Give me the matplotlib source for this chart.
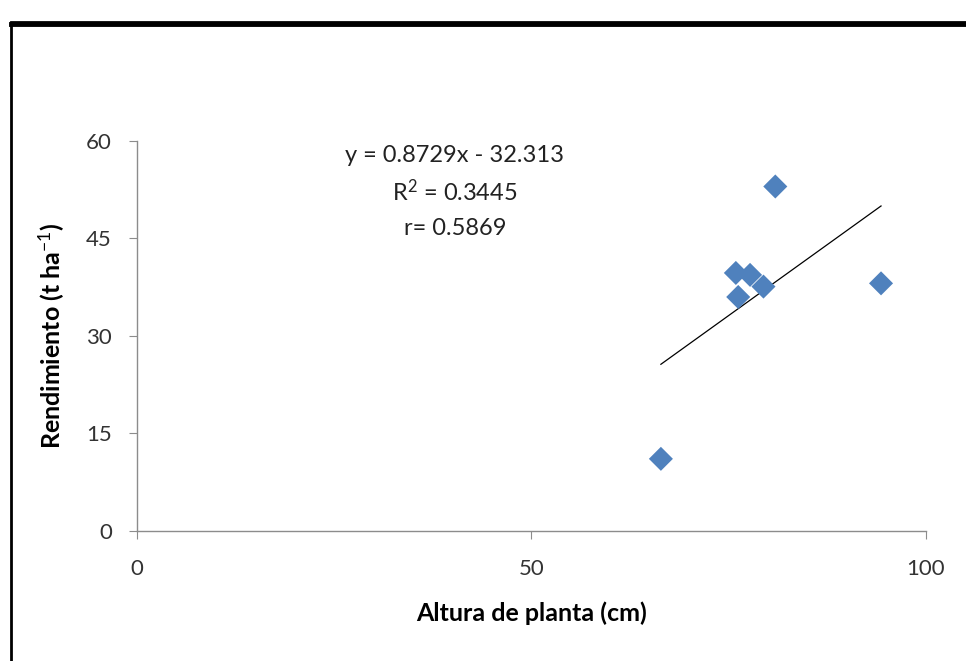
import numpy as np
import matplotlib.pyplot as plt
from matplotlib.patches import Rectangle

plt.rcParams['font.family'] = ['Lato', 'DejaVu Sans']
plt.rcParams['mathtext.fontset'] = 'custom'
plt.rcParams['mathtext.rm'] = 'Lato'
plt.rcParams['mathtext.it'] = 'Lato:italic'
plt.rcParams['mathtext.bf'] = 'Lato:bold'

# altura de planta (cm) vs rendimiento (t/ha)
altura = [66.4, 75.9, 76.2, 77.7, 79.4, 80.9, 94.3]
rendimiento = [11.1, 39.7, 36.0, 39.4, 37.6, 53.0, 38.1]

slope = 0.8729
intercept = -32.313
eq_lines = ["y = 0.8729x - 32.313", "R$^{2}$ = 0.3445", "r= 0.5869"]

x_ticks = [0, 50, 100]
y_ticks = [0, 15, 30, 45, 60]

fig = plt.figure(figsize=(9.66, 6.61), dpi=100)
fig.patches.append(Rectangle((11 / 966, -0.1), 1.1, 1 - 22 / 661 + 0.1,
                             transform=fig.transFigure, fill=False,
                             edgecolor='black', linewidth=2))
fig.add_artist(plt.Line2D([11 / 966, 1], [1 - 24 / 661, 1 - 24 / 661],
                          transform=fig.transFigure, color='black', linewidth=3.5))

ax = fig.add_axes([0.1418, 0.1967, 0.9586 - 0.1418, 0.7867 - 0.1967])

ax.scatter(altura, rendimiento, marker='D', s=150, color='#4F81BD',
           edgecolor='none', zorder=3)

xs = np.array([min(altura), max(altura)])
ax.plot(xs, slope * xs + intercept, color='black', linewidth=0.9, zorder=2)

ax.set_xlim(0, 100)
ax.set_ylim(0, 60)
ax.set_xticks(x_ticks)
ax.set_yticks(y_ticks)
for s in ['top', 'right']:
    ax.spines[s].set_visible(False)
for s in ['left', 'bottom']:
    ax.spines[s].set_color('#8c8c8c')
    ax.spines[s].set_linewidth(1)
ax.tick_params(direction='out', length=6, color='#8c8c8c', labelsize=16,
               labelcolor='#333333')
ax.tick_params(axis='x', pad=14)
ax.tick_params(axis='y', pad=12)

ax.set_xlabel("Altura de planta (cm)", fontsize=18, fontweight='bold', labelpad=16)
ax.set_ylabel("Rendimiento (t ha$^{-1}$)", fontsize=18, fontweight='bold', labelpad=14)

for i, t in enumerate(eq_lines):
    ax.text(40.3, 57.8 - i * 5.6, t, ha='center', va='center', fontsize=17,
            color='#222222')

fig.savefig('out.png', dpi=100)
